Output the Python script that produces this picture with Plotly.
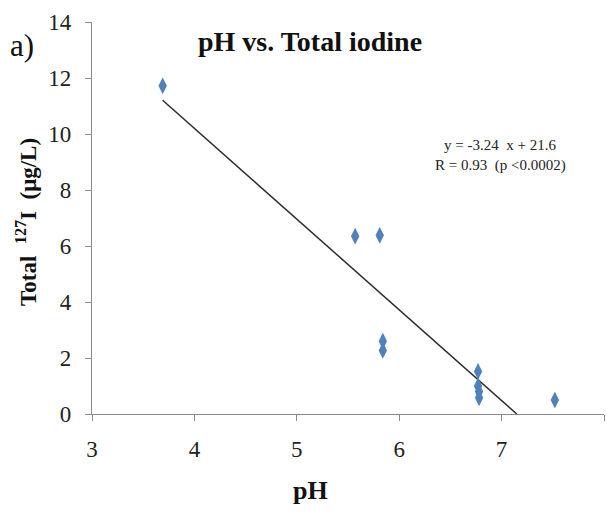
import plotly.graph_objects as go

# Data
ph = [3.69, 5.57, 5.81, 5.84, 5.84, 6.77, 6.77, 6.78, 6.78, 7.52]
iodine = [11.72, 6.35, 6.38, 2.6, 2.27, 1.52, 1.0, 0.8, 0.58, 0.5]

# Trend line as drawn (slope / intercept), drawn between x limits
trend_slope = -3.24
trend_intercept = 23.16
trend_x = [3.69, 7.148]
trend_y = [trend_slope * x + trend_intercept for x in trend_x]

x_ticks = [3, 4, 5, 6, 7, 8]
y_ticks = [0, 2, 4, 6, 8, 10, 12, 14]

FONT = "Liberation Serif"

fig = go.Figure()
fig.add_trace(go.Scatter(x=trend_x, y=trend_y, mode="lines",
                         line=dict(color="#2b2b2b", width=1.5),
                         hoverinfo="skip", showlegend=False, cliponaxis=False))
fig.add_trace(go.Scatter(x=ph, y=iodine, mode="markers",
                         marker=dict(symbol="diamond-tall", size=12, color="#4F81BD",
                                     line=dict(width=0)),
                         showlegend=False, cliponaxis=False))

fig.update_layout(
    width=607, height=528,
    margin=dict(l=92, r=3, t=22, b=114),
    paper_bgcolor="white", plot_bgcolor="white",
    font=dict(family=FONT, color="#222222", size=23),
    xaxis=dict(range=[3, 8], tickmode="array", tickvals=x_ticks,
               showgrid=False, zeroline=False,
               showline=True, linecolor="#8a8a8a", linewidth=1.2,
               ticks="outside", ticklen=6, tickcolor="#8a8a8a",
               tickfont=dict(family=FONT, size=23, color="#222222"),
               ticklabelstandoff=8),
    yaxis=dict(range=[0, 14], tickmode="array", tickvals=y_ticks,
               showgrid=False, zeroline=False,
               showline=True, linecolor="#8a8a8a", linewidth=1.2,
               ticks="outside", ticklen=6, tickcolor="#8a8a8a",
               tickfont=dict(family=FONT, size=23, color="#222222"),
               ticklabelstandoff=9),
)

ann = [
    dict(text="<b>pH vs. Total iodine</b>", x=0.426, y=0.949, xref="paper", yref="paper",
         font=dict(family=FONT, size=28, color="#111111"), xanchor="center", yanchor="middle"),
    dict(text="a)", x=-0.137, y=0.94, xref="paper", yref="paper",
         font=dict(family=FONT, size=31, color="#111111"), xanchor="center", yanchor="middle"),
    dict(text="<b>Total  <sup>127</sup>I  (μg/L)</b>", x=-0.127, y=0.49, xref="paper", yref="paper",
         textangle=-90, font=dict(family=FONT, size=23, color="#111111"),
         xanchor="center", yanchor="middle"),
    dict(text="<b>pH</b>", x=0.426, y=-0.195, xref="paper", yref="paper",
         font=dict(family=FONT, size=26, color="#111111"), xanchor="center", yanchor="middle"),
    dict(text="y = -3.24  x + 21.6", x=0.797, y=0.686, xref="paper", yref="paper",
         font=dict(family=FONT, size=15, color="#222222"), xanchor="center", yanchor="middle"),
    dict(text="R = 0.93  (p <0.0002)", x=0.797, y=0.635, xref="paper", yref="paper",
         font=dict(family=FONT, size=15, color="#222222"), xanchor="center", yanchor="middle"),
]
for a in ann:
    a["showarrow"] = False
    fig.add_annotation(**a)

fig.write_html("out.html")
